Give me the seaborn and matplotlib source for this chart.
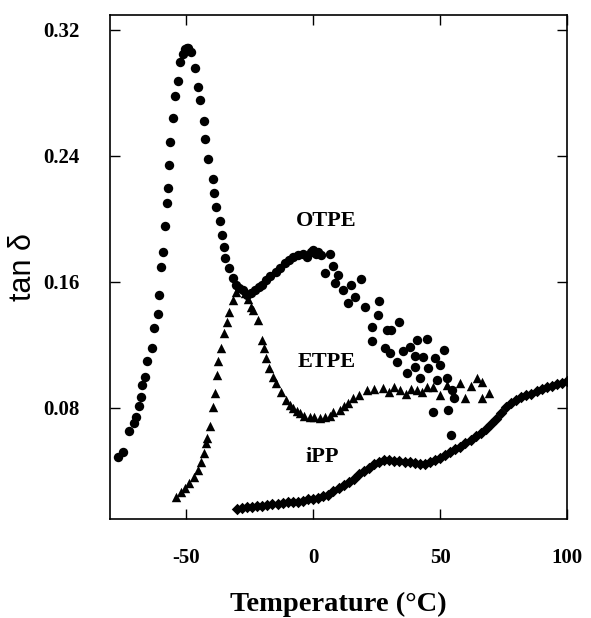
import matplotlib
matplotlib.use("Agg")
import matplotlib.pyplot as plt
import seaborn as sns
import pandas as pd

# ---------------- data ----------------
otpe_T = [-76.7, -74.9, -72.5, -70.5, -69.6, -68.5, -67.9, -67.2, -66.3, -65.5,
          -63.5, -62.6, -61.0, -60.6, -60.0, -59.3, -58.3, -57.6, -57.1, -56.7,
          -56.4, -55.1, -54.4, -53.1, -52.5, -51.1, -50.4, -49.8, -49.2, -48.1,
          -46.5, -45.2, -44.5, -43.1, -42.5, -41.4, -39.6, -38.9, -38.2, -36.6,
          -35.8, -35.1, -34.6, -33.0, -31.7, -30.3, -29.0, -27.5, -26.0, -24.5,
          -23.0, -21.5, -20.0, -18.5, -17.0, -14.5, -13.0, -11.2, -9.5, -7.9,
          -6.0, -4.0, -2.6, -1.0, 0.0, 1.0, 2.0, 3.0, 4.6, 6.6,
          7.9, 8.5, 9.8, 11.8, 13.8, 15.1, 16.4, 18.7, 20.4, 23.0,
          23.0, 25.7, 25.9, 28.3, 29.0, 30.3, 30.6, 32.9, 33.8, 35.5,
          36.9, 38.2, 40.2, 40.2, 40.8, 42.1, 43.4, 44.8, 45.4, 47.1,
          48.1, 48.7, 50.0, 51.4, 52.7, 53.1, 54.3, 54.7, 55.4]
otpe_v = [0.049, 0.052, 0.0656, 0.0706, 0.074, 0.0812, 0.0871, 0.0946, 0.0998, 0.1098,
          0.1183, 0.1308, 0.1397, 0.1517, 0.1697, 0.1792, 0.1955, 0.210, 0.2195, 0.2343,
          0.2491, 0.2643, 0.2781, 0.2876, 0.2999, 0.3048, 0.308, 0.3084, 0.3086, 0.3062,
          0.2957, 0.2836, 0.2756, 0.2624, 0.251, 0.2379, 0.2254, 0.2167, 0.2074, 0.1989,
          0.1896, 0.1824, 0.175, 0.1687, 0.1623, 0.158, 0.156, 0.155, 0.152, 0.153,
          0.155, 0.157, 0.158, 0.161, 0.164, 0.1665, 0.169, 0.172, 0.174, 0.176,
          0.177, 0.178, 0.176, 0.179, 0.180, 0.178, 0.179, 0.177, 0.1655, 0.178,
          0.170, 0.1595, 0.1644, 0.155, 0.1464, 0.158, 0.1507, 0.1617, 0.1443, 0.1316,
          0.1227, 0.139, 0.1481, 0.1179, 0.1295, 0.1151, 0.1295, 0.1094, 0.1344, 0.1164,
          0.102, 0.1189, 0.113, 0.1062, 0.1232, 0.0988, 0.1126, 0.1236, 0.1052, 0.0776,
          0.1115, 0.098, 0.1073, 0.1168, 0.0988, 0.079, 0.0628, 0.0914, 0.0861]

etpe_T = [-54.0, -52.1, -50.4, -48.8, -46.8, -45.5, -44.2, -43.1, -42.2, -41.9,
          -40.5, -39.6, -38.6, -38.0, -37.3, -36.3, -35.0, -34.0, -33.0, -31.7,
          -30.3, -29.0, -27.0, -25.5, -24.4, -23.5, -21.8, -20.0, -19.5, -18.5,
          -17.2, -15.9, -14.5, -12.5, -10.6, -9.0, -7.9, -6.5, -5.3, -3.5,
          -1.3, 0.5, 2.6, 4.5, 6.6, 7.9, 10.5, 12.0, 13.8, 15.8,
          18.0, 21.1, 24.0, 27.7, 30.0, 32.0, 34.2, 36.5, 38.5, 40.8,
          43.0, 45.0, 47.4, 50.0, 52.7, 55.3, 57.9, 59.9, 62.0, 64.5,
          66.5, 66.5, 69.1]
etpe_v = [0.0237, 0.0268, 0.029, 0.0322, 0.0364, 0.0406, 0.0459, 0.0512, 0.0576, 0.0607,
          0.0685, 0.0808, 0.0893, 0.1009, 0.1098, 0.1179, 0.1274, 0.1348, 0.1411, 0.1486,
          0.1538, 0.157, 0.153, 0.149, 0.1443, 0.142, 0.1358, 0.1232, 0.1179, 0.1115,
          0.1052, 0.0998, 0.0957, 0.0903, 0.085, 0.082, 0.0798, 0.078, 0.0766, 0.075,
          0.0745, 0.074, 0.0734, 0.074, 0.0749, 0.0776, 0.0787, 0.081, 0.0829, 0.0861,
          0.088, 0.0914, 0.092, 0.0925, 0.090, 0.093, 0.0914, 0.089, 0.092, 0.0914,
          0.090, 0.093, 0.0935, 0.088, 0.0946, 0.0882, 0.0957, 0.0861, 0.094, 0.0988,
          0.0967, 0.0861, 0.0897]

ipp_T = [-30, -28, -26, -24, -22, -20, -18, -16, -14, -12, -10, -8, -6, -4, -2,
         0, 2, 4, 6, 8, 10, 12, 14, 16, 18, 20, 22, 24, 26, 28, 30, 32, 34, 36,
         38, 40, 42, 44, 46, 48, 50, 52, 54, 56, 58, 60, 62, 64, 66, 68, 70, 72,
         74, 76, 78, 80, 82, 84, 86, 88, 90, 92, 94, 96, 98, 100]
ipp_v = [0.016, 0.0165, 0.017, 0.0172, 0.0175, 0.018, 0.0185, 0.019, 0.019, 0.0195,
         0.020, 0.020, 0.0205, 0.021, 0.022, 0.0225, 0.023, 0.024, 0.025, 0.027,
         0.029, 0.031, 0.033, 0.035, 0.038, 0.040, 0.042, 0.0445, 0.046, 0.047,
         0.047, 0.0465, 0.0465, 0.046, 0.0455, 0.045, 0.0445, 0.0445, 0.0455, 0.047,
         0.048, 0.050, 0.052, 0.054, 0.0555, 0.0575, 0.0595, 0.062, 0.064, 0.0665,
         0.070, 0.073, 0.077, 0.0805, 0.083, 0.085, 0.087, 0.088, 0.089, 0.0905,
         0.092, 0.093, 0.094, 0.095, 0.096, 0.097]

x_ticks = [-50, 0, 50, 100]
x_tick_labels = ["-50", "0", "50", "100"]
y_ticks = [0.08, 0.16, 0.24, 0.32]
y_tick_labels = ["0.08", "0.16", "0.24", "0.32"]

series_labels = ["OTPE", "ETPE", "iPP"]
label_pos_T = [5.0, 5.5, 3.5]
label_pos_v = [0.199, 0.109, 0.049]

# ---------------- plotting ----------------
sns.set_style("ticks")
plt.rcParams['font.family'] = ['Liberation Serif', 'DejaVu Serif']
plt.rcParams['text.color'] = 'black'
plt.rcParams['axes.labelcolor'] = 'black'
plt.rcParams['xtick.color'] = 'black'
plt.rcParams['ytick.color'] = 'black'
plt.rcParams['axes.edgecolor'] = 'black'

fig = plt.figure(figsize=(5.91, 6.18), dpi=100)
ax = fig.add_axes([110/591, 1-519/618, (567-110)/591, (519-15)/618])

df_o = pd.DataFrame({"T": otpe_T, "v": otpe_v})
df_e = pd.DataFrame({"T": etpe_T, "v": etpe_v})
df_i = pd.DataFrame({"T": ipp_T, "v": ipp_v})

sns.scatterplot(data=df_o, x="T", y="v", ax=ax, marker="o", s=46,
                color="black", edgecolor="black", linewidth=0)
sns.scatterplot(data=df_e, x="T", y="v", ax=ax, marker="^", s=46,
                color="black", edgecolor="black", linewidth=0)
sns.scatterplot(data=df_i, x="T", y="v", ax=ax, marker="D", s=34,
                color="black", edgecolor="black", linewidth=0)

ax.set_xlim(-80, 100)
ax.set_ylim(0.0095, 0.3295)
ax.set_xticks(x_ticks)
ax.set_xticklabels(x_tick_labels, fontweight="bold", fontsize=15, color="black")
ax.set_yticks(y_ticks)
ax.set_yticklabels(y_tick_labels, fontweight="bold", fontsize=15, color="black")
for lab in ax.get_yticklabels():
    lab.set_horizontalalignment("left")

ax.tick_params(axis="both", direction="in", length=7, width=1,
               top=True, right=True, color="black", labelcolor="black")
ax.tick_params(axis="x", pad=21)
ax.tick_params(axis="y", pad=48)
for sp in ax.spines.values():
    sp.set_linewidth(1.2)
    sp.set_color("black")

ax.set_xlabel("Temperature (°C)", fontsize=20.5, fontweight="bold",
              family=["Liberation Serif"], labelpad=17, color="black")
ax.set_ylabel("tan δ", fontsize=22, family=["Liberation Sans", "DejaVu Sans"],
              labelpad=4, color="black")

for lab, tx, ty in zip(series_labels, label_pos_T, label_pos_v):
    ax.text(tx, ty, lab, fontsize=16, fontweight="bold", ha="center",
            va="center", color="black")

fig.savefig("out.png", dpi=100)
